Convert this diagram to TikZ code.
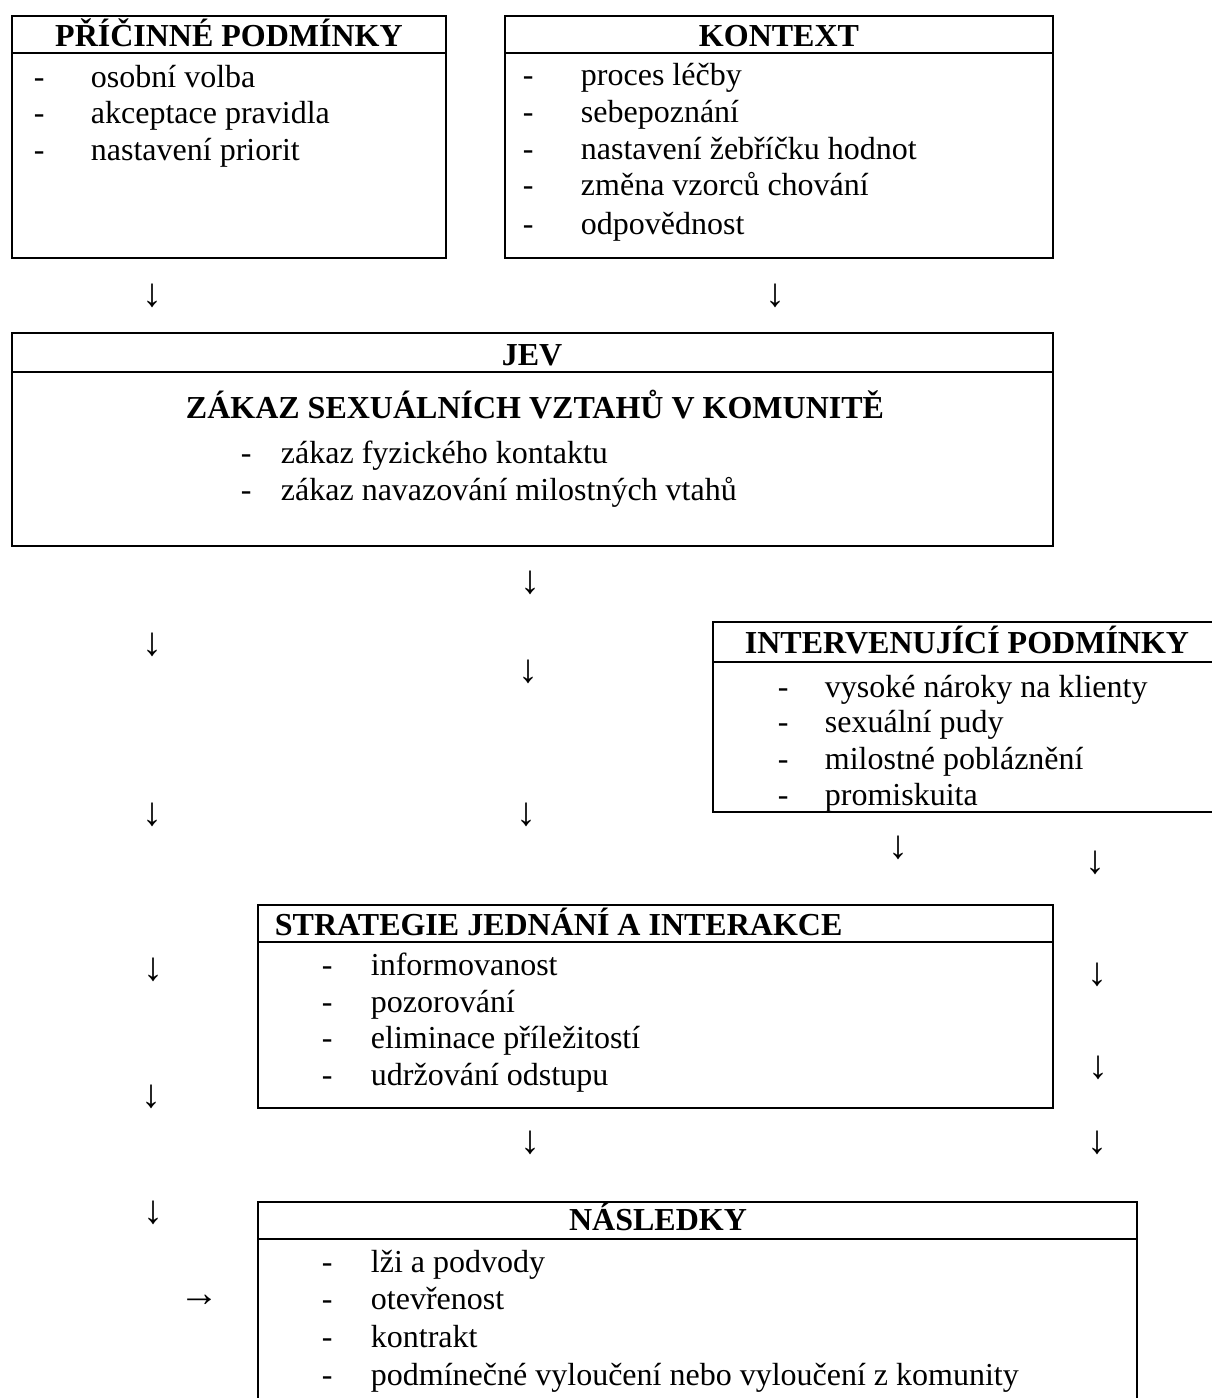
\documentclass[tikz,border=0pt]{standalone}
\usepackage{fontspec}
\setmainfont{Liberation Serif}
\newcommand{\bodysize}{\fontsize{24}{29}\selectfont}
\tikzset{every picture/.style={line width=1.4pt}}
\tikzset{
  boxtitle/.style={anchor=base,inner sep=0pt,font=\bodysize\bfseries},
  itemtext/.style={anchor=base west,inner sep=0pt,font=\bodysize},
  arrowglyph/.style={inner sep=0pt,font=\fontsize{30}{30}\selectfont},
}

\begin{document}
\begin{tikzpicture}[x=0.75pt,y=0.75pt,yscale=-1,xscale=1]
\useasboundingbox (0,0) rectangle (1211,1398);

%Shape: Rectangle [PŘÍČINNÉ PODMÍNKY]
\draw (12,16) rectangle (446,258) ;
\draw (12,53) -- (446,53) ;
%Shape: Rectangle [KONTEXT]
\draw (505,16) rectangle (1053,258) ;
\draw (505,53) -- (1053,53) ;
%Shape: Rectangle [JEV]
\draw (12,333) rectangle (1053,546) ;
\draw (12,372) -- (1053,372) ;
%Shape: Rectangle [INTERVENUJÍCÍ PODMÍNKY], open to the right
\draw (713,622) rectangle (1220,812) ;
\draw (713,662) -- (1220,662) ;
%Shape: Rectangle [STRATEGIE]
\draw (258,905) rectangle (1053,1108) ;
\draw (258,942) -- (1053,942) ;
%Shape: Rectangle [NÁSLEDKY], open to the bottom
\draw (258,1202) rectangle (1137,1420) ;
\draw (258,1239) -- (1137,1239) ;

% Text Node
\node (pricT) at (229,47) [boxtitle] {PŘÍČINNÉ PODMÍNKY};
\node (pricD1) at (33,88) [itemtext] {-};
\node (pricI1) at (90,88) [itemtext] {osobní volba};
\node (pricD2) at (33,124) [itemtext] {-};
\node (pricI2) at (90,124) [itemtext] {akceptace pravidla};
\node (pricD3) at (33,161) [itemtext] {-};
\node (pricI3) at (90,161) [itemtext] {nastavení priorit};

% Text Node
\node (kontT) at (779,47) [boxtitle] {KONTEXT};
\node (kontD1) at (522,86) [itemtext] {-};
\node (kontI1) at (580,86) [itemtext] {proces léčby};
\node (kontD2) at (522,123) [itemtext] {-};
\node (kontI2) at (580,123) [itemtext] {sebepoznání};
\node (kontD3) at (522,160) [itemtext] {-};
\node (kontI3) at (580,160) [itemtext] {nastavení žebříčku hodnot};
\node (kontD4) at (522,196) [itemtext] {-};
\node (kontI4) at (580,196) [itemtext] {změna vzorců chování};
\node (kontD5) at (522,234) [itemtext] {-};
\node (kontI5) at (580,234) [itemtext] {odpovědnost};

% Text Node
\node (jevT) at (532,365) [boxtitle] {JEV};
\node (jevS) at (535,418) [boxtitle] {ZÁKAZ SEXUÁLNÍCH VZTAHŮ V KOMUNITĚ};
\node (jevD1) at (240,463) [itemtext] {-};
\node (jevI1) at (280,463) [itemtext] {zákaz fyzického kontaktu};
\node (jevD2) at (240,500) [itemtext] {-};
\node (jevI2) at (280,500) [itemtext] {zákaz navazování milostných vtahů};

% Text Node
\node (intT) at (967,653) [boxtitle] {INTERVENUJÍCÍ PODMÍNKY};
\node (intD1) at (777,697) [itemtext] {-};
\node (intI1) at (824,697) [itemtext] {vysoké nároky na klienty};
\node (intD2) at (777,732) [itemtext] {-};
\node (intI2) at (824,732) [itemtext] {sexuální pudy};
\node (intD3) at (777,769) [itemtext] {-};
\node (intI3) at (824,769) [itemtext] {milostné pobláznění};
\node (intD4) at (777,805) [itemtext] {-};
\node (intI4) at (824,805) [itemtext] {promiskuita};

% Text Node
\node (strT) at (274,935) [boxtitle,anchor=base west] {STRATEGIE JEDNÁNÍ A INTERAKCE};
\node (strD1) at (321,975) [itemtext] {-};
\node (strI1) at (370,975) [itemtext] {informovanost};
\node (strD2) at (321,1012) [itemtext] {-};
\node (strI2) at (370,1012) [itemtext] {pozorování};
\node (strD3) at (321,1048) [itemtext] {-};
\node (strI3) at (370,1048) [itemtext] {eliminace příležitostí};
\node (strD4) at (321,1085) [itemtext] {-};
\node (strI4) at (370,1085) [itemtext] {udržování odstupu};

% Text Node
\node (nasT) at (658,1230) [boxtitle] {NÁSLEDKY};
\node (nasD1) at (321,1272) [itemtext] {-};
\node (nasI1) at (370,1272) [itemtext] {lži a podvody};
\node (nasD2) at (321,1309) [itemtext] {-};
\node (nasI2) at (370,1309) [itemtext] {otevřenost};
\node (nasD3) at (321,1347) [itemtext] {-};
\node (nasI3) at (370,1347) [itemtext] {kontrakt};
\node (nasD4) at (321,1385) [itemtext] {-};
\node (nasI4) at (370,1385) [itemtext] {podmínečné vyloučení nebo vyloučení z komunity};

% Arrow glyphs
\node (arr1) at (152,296) [arrowglyph] {↓};
\node (arr2) at (775,296) [arrowglyph] {↓};
\node (arr3) at (530,583) [arrowglyph] {↓};
\node (arr4) at (152,645) [arrowglyph] {↓};
\node (arr5) at (528,672) [arrowglyph] {↓};
\node (arr6) at (152,815) [arrowglyph] {↓};
\node (arr7) at (526,815) [arrowglyph] {↓};
\node (arr8) at (898,848) [arrowglyph] {↓};
\node (arr9) at (1095,863) [arrowglyph] {↓};
\node (arr10) at (153,970) [arrowglyph] {↓};
\node (arr11) at (1097,975) [arrowglyph] {↓};
\node (arr12) at (1098,1068) [arrowglyph] {↓};
\node (arr13) at (151,1097) [arrowglyph] {↓};
\node (arr14) at (530,1143) [arrowglyph] {↓};
\node (arr15) at (1097,1143) [arrowglyph] {↓};
\node (arr16) at (153,1213) [arrowglyph] {↓};
\node (arr17) at (199,1301) [arrowglyph] {→};

\end{tikzpicture}
\end{document}
